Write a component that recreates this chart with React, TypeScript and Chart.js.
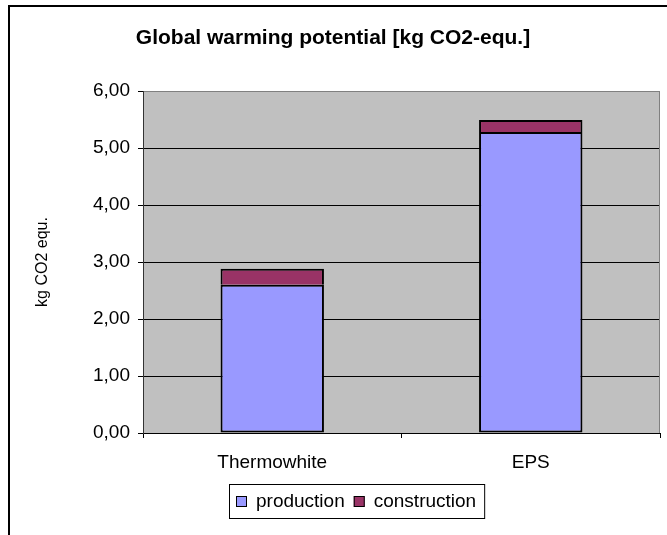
import { useEffect, useRef } from 'react';
import { Chart, registerables } from 'chart.js';

Chart.register(...registerables);

const categories = ['Thermowhite', 'EPS'];
const production = [2.6, 5.28];
const construction = [0.28, 0.21];
const seriesNames = ['production', 'construction'];
const seriesColors = ['#9999FF', '#993366'];
const yMin = 0;
const yMax = 6;
const yStep = 1;
const titleText = 'Global warming potential [kg CO2-equ.]';
const yTitleText = 'kg CO2 equ.';

const FONT = "Arial, 'Liberation Sans', sans-serif";

const decorPlugin = {
  id: 'decor',
  beforeDraw(chart: any) {
    const { ctx, chartArea } = chart;
    ctx.save();
    ctx.fillStyle = '#C0C0C0';
    ctx.fillRect(chartArea.left, chartArea.top, chartArea.right - chartArea.left, chartArea.bottom - chartArea.top);
    ctx.restore();
  },
  afterDraw(chart: any) {
    const { ctx, chartArea } = chart;
    ctx.save();
    // right plot border
    ctx.strokeStyle = '#808080';
    ctx.lineWidth = 1;
    ctx.beginPath();
    ctx.moveTo(Math.round(chartArea.right) - 0.5, chartArea.top);
    ctx.lineTo(Math.round(chartArea.right) - 0.5, chartArea.bottom);
    ctx.stroke();

    // outer frame (left and top)
    ctx.strokeStyle = '#000';
    ctx.lineWidth = 2;
    ctx.beginPath();
    ctx.moveTo(9, 535);
    ctx.lineTo(9, 6);
    ctx.lineTo(667, 6);
    ctx.stroke();

    // title
    ctx.fillStyle = '#000';
    ctx.font = `bold 21px ${FONT}`;
    ctx.textAlign = 'center';
    ctx.textBaseline = 'middle';
    ctx.fillText(titleText, 333, 38);

    // legend
    ctx.font = `19px ${FONT}`;
    const widths = seriesNames.map((n) => ctx.measureText(n).width);
    const padL = 7, marker = 11, gapM = 9, gapItem = 9, padR = 8;
    let total = padL + padR;
    widths.forEach((w, i) => {
      total += marker + gapM + w + (i < widths.length - 1 ? gapItem : 0);
    });
    const boxTop = 484, boxH = 34;
    const left = Math.round(356.5 - total / 2);
    ctx.fillStyle = '#fff';
    ctx.fillRect(left, boxTop, total, boxH);
    ctx.strokeStyle = '#000';
    ctx.lineWidth = 1;
    ctx.strokeRect(left + 0.5, boxTop + 0.5, total, boxH);
    let x = left + padL;
    const cy = boxTop + boxH / 2;
    ctx.textAlign = 'left';
    ctx.textBaseline = 'middle';
    seriesNames.forEach((n, i) => {
      ctx.fillStyle = seriesColors[i];
      ctx.fillRect(x, Math.round(cy - marker / 2), marker, marker);
      ctx.strokeStyle = '#000';
      ctx.strokeRect(x + 0.5, Math.round(cy - marker / 2) + 0.5, marker - 1, marker - 1);
      x += marker + gapM;
      ctx.fillStyle = '#000';
      ctx.fillText(n, x, cy + 1);
      x += widths[i] + gapItem;
    });
    ctx.restore();
  },
};

export default function App() {
  const ref = useRef<HTMLCanvasElement | null>(null);
  useEffect(() => {
    if (!ref.current) return;
    const chart = new Chart(ref.current, {
      type: 'bar',
      data: {
        labels: categories,
        datasets: [
          {
            label: seriesNames[0],
            data: production,
            backgroundColor: seriesColors[0],
            borderColor: '#000',
            borderWidth: 2,
            borderSkipped: false,
            categoryPercentage: 0.8,
            barPercentage: 0.5,
          },
          {
            label: seriesNames[1],
            data: construction,
            backgroundColor: seriesColors[1],
            borderColor: '#000',
            borderWidth: 2,
            borderSkipped: 'start',
            categoryPercentage: 0.8,
            barPercentage: 0.5,
          },
        ],
      },
      options: {
        responsive: false,
        animation: false,
        layout: { padding: { left: 0, right: 7, top: 91, bottom: 0 } },
        plugins: {
          legend: { display: false },
          title: { display: false },
          tooltip: { enabled: false },
        },
        scales: {
          x: {
            stacked: true,
            grid: {
              offset: true,
              drawOnChartArea: false,
              drawTicks: true,
              tickLength: 5,
              color: '#000',
            },
            border: { display: true, color: '#000', width: 1 },
            ticks: {
              font: { family: FONT, size: 19 },
              color: '#000',
              padding: 13,
            },
            afterFit: (s: any) => {
              s.height = 102;
            },
          },
          y: {
            stacked: true,
            min: yMin,
            max: yMax,
            ticks: {
              stepSize: yStep,
              font: { family: FONT, size: 19 },
              color: '#000',
              padding: 8,
              callback: (v: any) => Number(v).toFixed(2).replace('.', ','),
            },
            grid: {
              color: (c: any) => (c.tick && c.tick.value === yMax ? '#808080' : '#000'),
              tickColor: '#000',
              tickLength: 5,
              lineWidth: 1,
            },
            border: { display: true, color: '#333', width: 1 },
            title: {
              display: true,
              text: yTitleText,
              font: { family: FONT, size: 16 },
              color: '#000',
              padding: { top: 33, bottom: 0 },
            },
            afterFit: (s: any) => {
              s.width = 143;
            },
          },
        },
      },
      plugins: [decorPlugin],
    });
    return () => chart.destroy();
  }, []);
  return (
    <div style={{ position: 'absolute', left: 0, top: 0, width: 667, height: 535 }}>
      <canvas ref={ref} width={667} height={535} style={{ display: 'block' }} />
    </div>
  );
}
